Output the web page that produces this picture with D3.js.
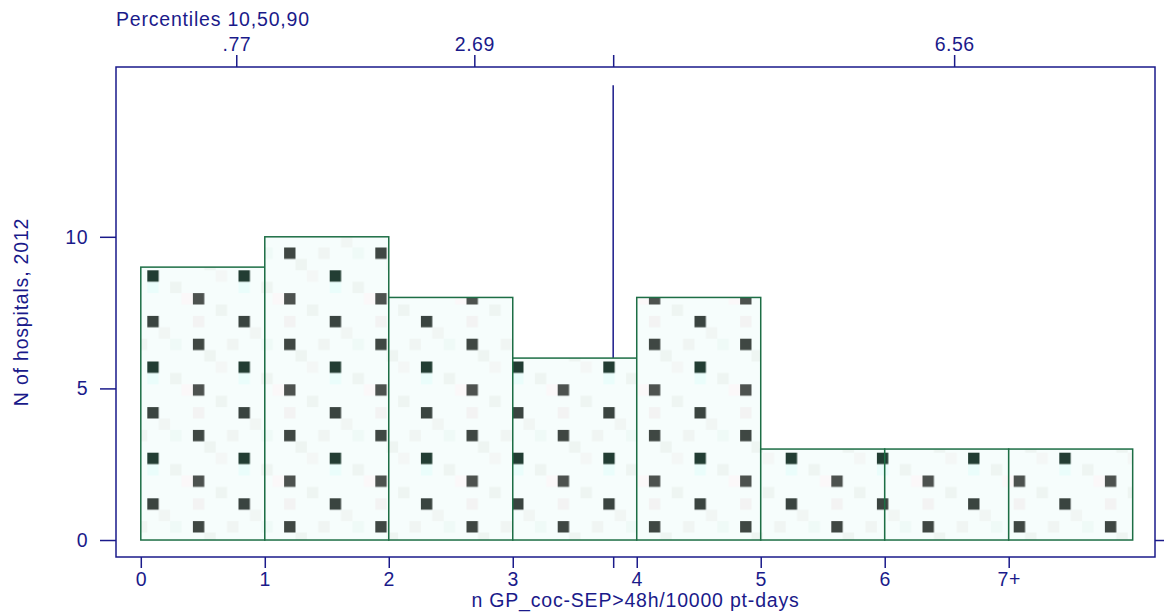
<!DOCTYPE html>
<html><head><meta charset="utf-8">
<script src="https://cdn.jsdelivr.net/npm/d3@7"></script>
<style>body{margin:0;background:#fff}svg{display:block}text{font-family:"Liberation Sans",Arial,sans-serif;}</style>
</head><body>
<svg id="c" width="1164" height="616"></svg>
<script>
// data
const binStarts = [0,1,2,3,4,5,6,7];
const binWidth = 1;
const counts = [9,10,8,6,8,3,3,3];
const xTicks = [0,1,2,3,4,5,6,7];
const xTickLabels = ["0","1","2","3","4","5","6","7+"];
const yTicks = [0,5,10];
const pctValues = [0.77,2.69,6.56];
const pctLabels = [".77","2.69","6.56"];
const meanValue = 3.81;
const meanTop = 15;
const topTitle = "Percentiles 10,50,90";
const xTitle = "n GP_coc-SEP>48h/10000 pt-days";
const yTitle = "N of hospitals, 2012";

const navy = "#1a1a8a", green = "#1d6e45";
const L=116, R=1155, T=67, B=557;
const x = d3.scaleLinear().domain([-0.2, 8.18]).range([L, R]);
const y = d3.scaleLinear().domain([-0.56, 15.6]).range([B, T]);
const svg = d3.select("#c");

// pattern
const defs = svg.append("defs");
const pat = defs.append("pattern").attr("id","tex").attr("patternUnits","userSpaceOnUse")
  .attr("x",147.3).attr("y",270.3).attr("width",91.2).attr("height",91.2);
pat.append("rect").attr("width",91.2).attr("height",91.2).attr("fill","#f6fdfc");
const c = 11.4;
const faint = [[2,1,"#eef5f2"],[6,3,"#eef5f2"],[1,5,"#f1f6f4"],[5,7,"#eef5f2"],[3,2,"#fbf8f9"],[7,6,"#f0f5f3"],[0,1,"#eafdfb"],[4,4,"#f3f3f3"],[2,6,"#effaf7"],[6,0,"#f4f7f6"]];
faint.forEach(([i,j,col])=>pat.append("rect").attr("x",i*c).attr("y",j*c).attr("width",c).attr("height",c).attr("fill",col));
const dark = [[0,0,"#223d33"],[4,2,"#4d524f"],[0,4,"#3a4440"],[4,6,"#3f4743"]];
dark.forEach(([i,j,col])=>pat.append("rect").attr("x",i*c).attr("y",j*c).attr("width",c).attr("height",c).attr("fill",col));

// mean line (behind bars)
svg.append("line").attr("x1",x(meanValue)).attr("x2",x(meanValue)).attr("y1",y(meanTop)).attr("y2",y(0))
  .attr("stroke",navy).attr("stroke-width",1.5);

// bars
svg.selectAll("rect.bar").data(binStarts).join("rect").attr("class","bar")
  .attr("x",d=>x(d)).attr("width",d=>x(d+binWidth)-x(d))
  .attr("y",(d,i)=>y(counts[i])).attr("height",(d,i)=>y(0)-y(counts[i]))
  .attr("fill","url(#tex)").attr("stroke",green).attr("stroke-width",1.5);

// frame
svg.append("rect").attr("x",L).attr("y",T).attr("width",R-L).attr("height",B-T)
  .attr("fill","none").attr("stroke",navy).attr("stroke-width",1.5);

function styleAxis(g){
  g.select(".domain").remove();
  g.selectAll(".tick line").attr("stroke",navy).attr("stroke-width",1.5);
  g.selectAll(".tick text").attr("fill",navy).attr("font-size","19.5px").attr("letter-spacing","0.5px");
}
// bottom axis
const bx = svg.append("g").attr("transform",`translate(0,${B})`)
  .call(d3.axisBottom(x).tickValues(xTicks.concat([meanValue])).tickSize(11).tickPadding(4)
    .tickFormat(d=>{const i=xTicks.indexOf(d);return i>=0?xTickLabels[i]:"";}));
styleAxis(bx);
// left axis
const ly = svg.append("g").attr("transform",`translate(${L},0)`)
  .call(d3.axisLeft(y).tickValues(yTicks).tickSize(16).tickPadding(12).tickFormat(d3.format("d")));
styleAxis(ly);
// right axis
const ry = svg.append("g").attr("transform",`translate(${R},0)`)
  .call(d3.axisRight(y).tickValues([0]).tickSize(10).tickFormat(""));
styleAxis(ry);
// top axis
const tx = svg.append("g").attr("transform",`translate(0,${T})`)
  .call(d3.axisTop(x).tickValues(pctValues.concat([meanValue])).tickSize(12).tickPadding(4)
    .tickFormat(d=>{const i=pctValues.indexOf(d);return i>=0?pctLabels[i]:"";}));
styleAxis(tx);

// titles
svg.append("text").attr("x",L).attr("y",26).attr("fill",navy).attr("font-size","19.5px").attr("letter-spacing","0.8px").text(topTitle);
svg.append("text").attr("x",(L+R)/2).attr("y",607).attr("text-anchor","middle").attr("fill",navy).attr("font-size","19.5px").attr("letter-spacing","0.8px").text(xTitle);
svg.append("text").attr("transform",`translate(28,${(T+B)/2}) rotate(-90)`).attr("text-anchor","middle").attr("fill",navy).attr("font-size","19.5px").attr("letter-spacing","0.8px").text(yTitle);
</script>
</body></html>
